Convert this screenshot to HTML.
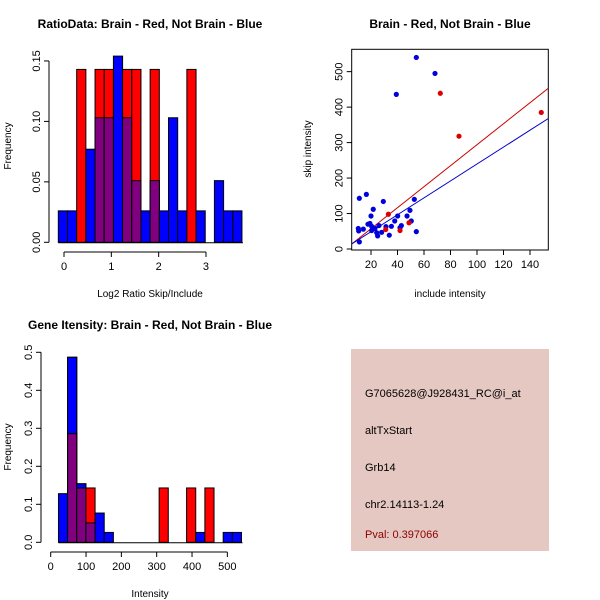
<!DOCTYPE html>
<html><head><meta charset="utf-8"><style>
body{margin:0;background:#fff}
svg{display:block;font-family:"Liberation Sans",sans-serif}
</style></head><body>
<svg id="s" width="600" height="600" viewBox="0 0 600 600" xmlns="http://www.w3.org/2000/svg">
<rect width="600" height="600" fill="#fff"/>
<g>
<rect x="351" y="349" width="198" height="202" fill="#e5c8c2"/>
<text x="365" y="397" font-size="11" fill="#000">G7065628@J928431_RC@i_at</text>
<text x="365" y="434" font-size="11" fill="#000">altTxStart</text>
<text x="365" y="471" font-size="11" fill="#000">Grb14</text>
<text x="365" y="508" font-size="11" fill="#000">chr2.14113-1.24</text>
<text x="365" y="538" font-size="11" fill="#8b0000">Pval: 0.397066</text>
</g>
</svg>
<script>
// ---- Ratio histogram data ----
const ratioBinStart=-0.12, ratioBinWidth=0.194;
const ratioBlue=[0.026,0.026,0,0.077,0.103,0.103,0.154,0.103,0.051,0.026,0.051,0.026,0.103,0.026,0,0.026,0,0.051,0.026,0.026];
const ratioRed=[0,0,0.143,0,0.143,0.143,0,0.143,0.143,0,0.143,0,0,0,0.143,0,0,0,0,0];
const ratioXTicks=[0,1,2,3];
const ratioYTicks=["0.00","0.05","0.10","0.15"];
// ---- Intensity histogram data ----
const intBinStart=22, intBinWidth=25.9;
const intBlue=[0.128,0.487,0.154,0.051,0.077,0.026,0,0,0,0,0,0,0,0,0,0.026,0,0,0.026,0.026];
const intRed=[0,0.286,0.143,0.143,0,0,0,0,0,0,0,0.143,0,0,0.143,0,0.143,0,0,0];
const intXTicks=[0,100,200,300,400,500];
const intYTicks=["0.0","0.1","0.2","0.3","0.4","0.5"];
// ---- Scatter data ----
const blueX=[54.2,68.3,39.1,11.2,16.5,29.3,52.7,21.7,20,40.1,47.2,49.4,50.4,37.9,17.7,19.2,10.4,14.2,10.7,20.5,23,24.3,28,25,31.3,35.4,42.9,41.9,33.8,54.2,11.2,26,20.5];
const blueY=[540,495,436,143,154,134,140,112,93,93,93,109,79,79,70,72,58,56,51,52,58,46,47,37,63,64,66,60,39,49,20,66,64];
const redX=[72.3,86.4,148.5,33.1,31.1,41.9,48.7];
const redY=[439,318,385,98,55,52,74];
const redFit=[-2,2.96];   // intercept, slope
const blueFit=[1.1,2.385];
const scXTicks=[20,40,60,80,100,120,140];
const scYTicks=[0,100,200,300,400,500];

const S=document.getElementById('s');
const NS="http://www.w3.org/2000/svg";
function mk(tag,attrs,parent){const e=document.createElementNS(NS,tag);for(const k in attrs)e.setAttribute(k,attrs[k]);(parent||S).appendChild(e);return e;}
function txt(x,y,s,size,extra,parent){const t=mk('text',Object.assign({x:x,y:y,'font-size':size,'text-anchor':'middle',fill:'#000'},extra||{}),parent);t.textContent=s;return t;}

function hist(cfg){
  const g=mk('g',{});
  
  
  const xs=v=>cfg.x0+(v-cfg.xmin)*cfg.xk, ys=v=>cfg.y0-v*cfg.yk;
  for(let i=0;i<cfg.blue.length;i++){
    const a=cfg.start+i*cfg.w, b=a+cfg.w, bl=cfg.blue[i], rd=cfg.red[i];
    const x1=xs(a), x2=xs(b);
    if(bl>0){const r=mk('rect',{x:x1,y:ys(bl),width:x2-x1,height:ys(0)-ys(bl),fill:'#0000ff',stroke:'#000','stroke-width':1},g);
      }
    if(rd>0){const r=mk('rect',{x:x1,y:ys(rd),width:x2-x1,height:ys(0)-ys(rd),fill:'#ff0000',stroke:'#000','stroke-width':1},g);
      }
    if(bl>0&&rd>0){const m=Math.min(bl,rd);const r=mk('rect',{x:x1,y:ys(m),width:x2-x1,height:ys(0)-ys(m),fill:'#800080',stroke:'#000','stroke-width':1},g);
      }
    if(bl>0&&rd>0&&bl>rd){mk('rect',{x:x1,y:ys(bl),width:x2-x1,height:ys(rd)-ys(bl),fill:'#0000ff',stroke:'#000','stroke-width':1},g);}
  }
  // baseline
  const e0=xs(cfg.start), e1=xs(cfg.start+cfg.blue.length*cfg.w);
  mk('line',{x1:e0,x2:e1+1,y1:ys(0)+0.5,y2:ys(0)+0.5,stroke:'#000'},g);
  // x axis
  const ax=mk('g',{},g);
  const ay=cfg.axY;
  mk('line',{x1:xs(cfg.xt[0]),x2:xs(cfg.xt[cfg.xt.length-1]),y1:ay,y2:ay,stroke:'#000'},ax);
  cfg.xt.forEach(t=>{mk('line',{x1:xs(t),x2:xs(t),y1:ay,y2:ay+5,stroke:'#000'},ax);txt(xs(t),ay+18,String(t),11,{},ax);});
  // y axis
  const yg=mk('g',{},g);
  const axX=cfg.axX;
  const yv=cfg.yt.map(Number);
  mk('line',{x1:axX,x2:axX,y1:ys(yv[0]),y2:ys(yv[yv.length-1]),stroke:'#000'},yg);
  cfg.yt.forEach(t=>{const y=ys(Number(t));mk('line',{x1:axX-5,x2:axX,y1:y,y2:y,stroke:'#000'},yg);
    txt(axX-9,y,t,11,{transform:`rotate(-90 ${axX-9} ${y})`},yg);});
  const yt=txt(11,cfg.ylabY,'Frequency',10,{transform:`rotate(-90 11 ${cfg.ylabY})`},g);
  
  const xt=txt(cfg.xlabX,cfg.xlabY,cfg.xlab,10,{},g);
  
  const tt=txt(cfg.titleX,cfg.titleY,cfg.title,12,{'font-weight':'bold'},g);
  
}

hist({name:'ratio-histogram',blue:ratioBlue,red:ratioRed,start:ratioBinStart,w:ratioBinWidth,
  x0:64,xmin:0,xk:47.33,y0:242.3,yk:1209,xt:ratioXTicks,yt:ratioYTicks,axY:252,axX:49,
  ylabY:146,xlab:'Log2 Ratio Skip/Include',xlabX:150,xlabY:297,title:'RatioData: Brain - Red, Not Brain - Blue',titleX:150,titleY:28});
hist({name:'intensity-histogram',blue:intBlue,red:intRed,start:intBinStart,w:intBinWidth,
  x0:50.7,xmin:0,xk:0.3533,y0:542.3,yk:380,xt:intXTicks,yt:intYTicks,axY:552,axX:41,
  ylabY:447,xlab:'Intensity',xlabX:150,xlabY:597,title:'Gene Itensity: Brain - Red, Not Brain - Blue',titleX:150,titleY:329});

// ---- Scatter ----
(function(){
  const g=mk('g',{});
  const L=351.7,R=548.3,T=49.3,B=250;
  const xs=v=>344.5+v*1.325, ys=v=>249-v*0.3547;
  mk('clipPath',{id:'cp'},g).appendChild(Object.assign(document.createElementNS(NS,'rect'),{}));
  const cr=g.querySelector('#cp');cr.firstChild.setAttribute('x',L);cr.firstChild.setAttribute('y',T);cr.firstChild.setAttribute('width',R-L);cr.firstChild.setAttribute('height',B-T);
  mk('rect',{x:L,y:T,width:R-L,height:B-T,fill:'none',stroke:'#000'},g);
  const xmin=(L-344.5)/1.325, xmax=(R-344.5)/1.325;
  [[redFit,'#cc0000','red-fit-line'],[blueFit,'#0000cc','blue-fit-line']].forEach(([f,c,n])=>{
    const l=mk('line',{x1:xs(xmin),y1:ys(f[0]+f[1]*xmin),x2:xs(xmax),y2:ys(f[0]+f[1]*xmax),stroke:c,'stroke-width':1,'clip-path':'url(#cp)'},g);
    });
  blueX.forEach((x,i)=>{const c=mk('circle',{cx:xs(x),cy:ys(blueY[i]),r:2.6,fill:'#0000dd'},g);
    });
  redX.forEach((x,i)=>{const c=mk('circle',{cx:xs(x),cy:ys(redY[i]),r:2.6,fill:'#dd0000'},g);
    });
  const ax=mk('g',{},g);
  scXTicks.forEach(t=>{mk('line',{x1:xs(t),x2:xs(t),y1:B,y2:B+5,stroke:'#000'},ax);txt(xs(t),B+18,String(t),11,{},ax);});
  const yg=mk('g',{},g);
  scYTicks.forEach(t=>{const y=ys(t);mk('line',{x1:L-5,x2:L,y1:y,y2:y,stroke:'#000'},yg);
    txt(L-9,y,String(t),11,{transform:`rotate(-90 ${L-9} ${y})`},yg);});
  const yt=txt(311,149,'skip intensity',10,{transform:'rotate(-90 311 149)'},g);
  
  const xt=txt(450,297,'include intensity',10,{},g);
  
  const tt=txt(450,28,'Brain - Red, Not Brain - Blue',12,{'font-weight':'bold'},g);
  
})();
</script>
</body></html>
